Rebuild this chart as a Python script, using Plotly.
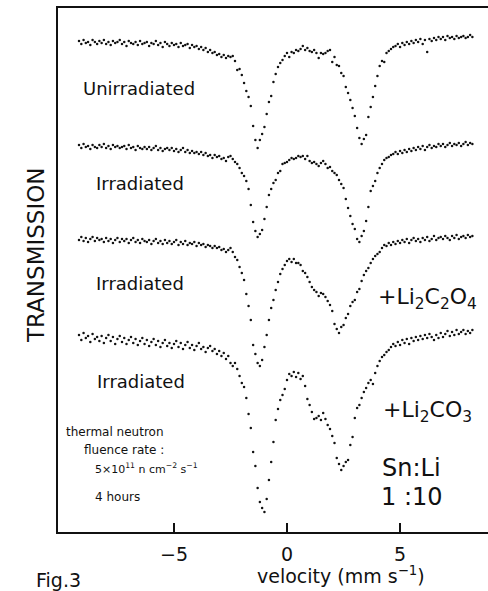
import numpy as np
import plotly.graph_objects as go

# Channel velocities (mm/s): equally spaced, 0.1 mm/s per channel
V_START = -9.2
V_STEP = 0.1

# Transmission counts (arbitrary units; the four spectra share one stacked scale)
tr_unirradiated = [
    491, 488, 492, 489, 490, 487, 492, 490, 488, 491,   # -9.2
    489, 492, 488, 490, 487, 491, 489, 490, 492, 488,   # -8.2
    490, 486, 491, 489, 488, 490, 487, 491, 488, 489,   # -7.2
    490, 486, 489, 488, 491, 487, 489, 485, 490, 488,   # -6.2
    486, 489, 487, 488, 485, 489, 486, 487, 488, 484,   # -5.2
    487, 485, 486, 483, 485, 482, 484, 480, 482, 479,   # -4.2
    480, 477, 478, 475, 477, 474, 476, 475, 476, 471,   # -3.2
    462, 463, 457, 449, 441, 435, 426, 406, 392, 384,   # -2.2
    392, 398, 405, 418, 430, 436, 450, 458, 465, 469,   # -1.2
    472, 476, 479, 475, 480, 479, 482, 481, 483, 486,   # -0.2
    482, 484, 481, 480, 482, 479, 474, 479, 478, 479,   # 0.8
    481, 482, 470, 475, 467, 466, 459, 456, 445, 439,   # 1.8
    432, 424, 416, 404, 394, 388, 393, 397, 415, 425,   # 2.8
    435, 446, 456, 466, 471, 470, 479, 481, 483, 485,   # 3.8
    486, 488, 485, 489, 487, 490, 488, 491, 489, 492,   # 4.8
    490, 493, 488, 492, 480, 493, 491, 494, 492, 495,   # 5.8
    493, 495, 492, 496, 494, 495, 493, 496, 494, 495,   # 6.8
    496, 494, 495, 497, 495,                            # 7.8
]

tr_irradiated = [
    387, 384, 388, 385, 386, 383, 387, 385, 384, 387,
    385, 388, 384, 386, 383, 387, 385, 386, 384, 385,
    386, 383, 387, 384, 385, 382, 386, 384, 383, 385,
    383, 385, 382, 384, 386, 382, 384, 381, 383, 384,
    382, 384, 381, 383, 380, 382, 384, 380, 382, 379,
    381, 379, 380, 378, 380, 377, 379, 376, 377, 374,
    377, 375, 376, 373, 374, 371, 375, 376, 373, 370,
    368, 364, 359, 356, 351, 343, 327, 310, 301, 295,
    298, 302, 313, 325, 337, 343, 349, 352, 359, 361,
    368, 369, 370, 372, 374, 373, 374, 376, 375, 376,
    373, 376, 371, 369, 370, 368, 366, 369, 371, 368,
    364, 365, 361, 359, 357, 352, 348, 344, 333, 324,
    316, 308, 303, 293, 290, 296, 301, 311, 325, 341,
    346, 351, 359, 364, 368, 372, 374, 375, 377, 378,
    380, 378, 381, 379, 382, 380, 383, 381, 384, 382,
    385, 383, 386, 382, 385, 387, 384, 386, 385, 388,
    386, 388, 385, 387, 389, 386, 388, 387, 389, 386,
    388, 390, 387, 389, 388,
]

tr_oxalate = [
    292, 295, 291, 294, 290, 293, 295, 291, 294, 292,
    293, 290, 294, 291, 293, 289, 292, 294, 290, 293,
    291, 293, 289, 292, 294, 290, 292, 289, 293, 291,
    290, 292, 288, 291, 293, 289, 291, 288, 292, 289,
    291, 288, 290, 292, 287, 290, 288, 291, 287, 289,
    288, 290, 286, 289, 287, 288, 285, 287, 286, 284,
    286, 284, 285, 282, 283, 280, 282, 284, 280, 275,
    272, 265, 259, 252, 238, 226, 212, 187, 178, 169,
    166, 172, 185, 197, 212, 224, 232, 242, 250, 258,
    263, 267, 271, 273, 270, 273, 269, 269, 267, 261,
    259, 255, 250, 245, 242, 240, 236, 239, 238, 235,
    231, 227, 221, 208, 203, 199, 205, 207, 214, 218,
    226, 230, 232, 240, 243, 251, 257, 261, 264, 269,
    273, 276, 278, 280, 284, 287, 286, 289, 287, 290,
    288, 291, 289, 292, 290, 293, 289, 292, 294, 291,
    293, 290, 294, 292, 295, 291, 293, 296, 292, 294,
    295, 293, 296, 294, 292, 296, 294, 297, 293, 295,
    296, 294, 297, 295, 296,
]

tr_carbonate = [
    197, 192, 199, 194, 196, 190, 198, 193, 195, 191,
    196, 189, 194, 197, 191, 195, 188, 193, 196, 190,
    194, 188, 192, 195, 189, 193, 187, 191, 194, 188,
    192, 186, 190, 193, 187, 191, 185, 189, 192, 186,
    189, 184, 188, 191, 185, 189, 183, 187, 190, 184,
    187, 182, 186, 189, 183, 185, 180, 184, 186, 181,
    183, 178, 181, 176, 179, 173, 176, 169, 166, 169,
    163, 156, 149, 145, 134, 118, 104, 80, 66, 44,
    30, 24, 20, 33, 52, 70, 90, 112, 123, 132,
    137, 143, 152, 158, 156, 160, 155, 159, 153, 156,
    146, 133, 127, 120, 113, 114, 116, 112, 119, 113,
    107, 103, 96, 89, 74, 68, 62, 66, 70, 72,
    87, 95, 114, 124, 127, 134, 140, 144, 149, 152,
    148, 159, 166, 171, 175, 177, 180, 182, 185, 188,
    186, 190, 187, 192, 189, 193, 188, 194, 191, 195,
    192, 196, 193, 197, 194, 198, 195, 192, 197, 194,
    199, 195, 198, 201, 196, 200, 197, 202, 198, 200,
    202, 198, 201, 199, 202,
]

spectra = [tr_unirradiated, tr_irradiated, tr_oxalate, tr_carbonate]

tick_vals = [-5, 0, 5]
tick_text = ["\u22125", "0", "5"]

INK = "#111111"
FONT = "DejaVu Sans"


def velocities(tr):
    return np.round(V_START + V_STEP * np.arange(len(tr)), 2)


fig = go.Figure()
for tr in spectra:
    fig.add_trace(go.Scatter(
        x=velocities(tr), y=tr, mode="markers",
        marker=dict(size=2.5, color=INK),
        showlegend=False, hoverinfo="skip",
    ))


def label(x, y, text, size, xanchor="center", angle=0, ref="data"):
    xr, yr = ("x", "y") if ref == "data" else ("paper", "paper")
    fig.add_annotation(
        x=x, y=y, xref=xr, yref=yr, text=text, showarrow=False,
        xanchor=xanchor, yanchor="middle", textangle=angle,
        font=dict(family=FONT, size=size, color=INK),
    )


# spectrum captions
label(-6.55, 444, "Unirradiated", 18)
label(-6.5, 349, "Irradiated", 18)
label(-6.5, 249, "Irradiated", 18)
label(-6.46, 151, "Irradiated", 18)
label(3.95, 234, "+Li<sub>2</sub>C<sub>2</sub>O<sub>4</sub>", 22, "left")
label(4.15, 121, "+Li<sub>2</sub>CO<sub>3</sub>", 22, "left")
label(5.5, 64, "Sn:Li", 24)
label(5.55, 35, "1 :10", 24)

# irradiation conditions
label(-9.85, 100, "thermal neutron", 12, "left")
label(-9.05, 82, "fluence rate :", 12, "left")
label(-8.6, 64, "5\u00d710<sup>11</sup> n cm<sup>\u22122</sup> s<sup>\u22121</sup>", 11, "left")
label(-8.6, 35, "4 hours", 12, "left")

# axis captions and figure number
label(-0.0512, 0.5286, "TRANSMISSION", 23, angle=-90, ref="paper")
label(0.0023, -0.0916, "Fig.3", 19, ref="paper")
label(0.658, -0.0830, "velocity (mm s<sup>\u22121</sup>)", 19, ref="paper")

fig.update_layout(
    width=488, height=591,
    margin=dict(l=58, r=0, t=8, b=59),
    paper_bgcolor="white", plot_bgcolor="white",
    xaxis=dict(
        range=[-10.13, 8.89], showgrid=False, zeroline=False,
        showline=True, linecolor=INK, linewidth=2, mirror=True,
        ticks="inside", ticklen=9, tickwidth=1.5, tickcolor=INK,
        tickvals=tick_vals, ticktext=tick_text, ticklabelstandoff=4,
        tickfont=dict(family=FONT, size=19, color=INK),
    ),
    yaxis=dict(
        range=[0, 524], showgrid=False, zeroline=False,
        showline=True, linecolor=INK, linewidth=2,
        showticklabels=False, ticks="",
    ),
)

fig.write_html("out.html")
